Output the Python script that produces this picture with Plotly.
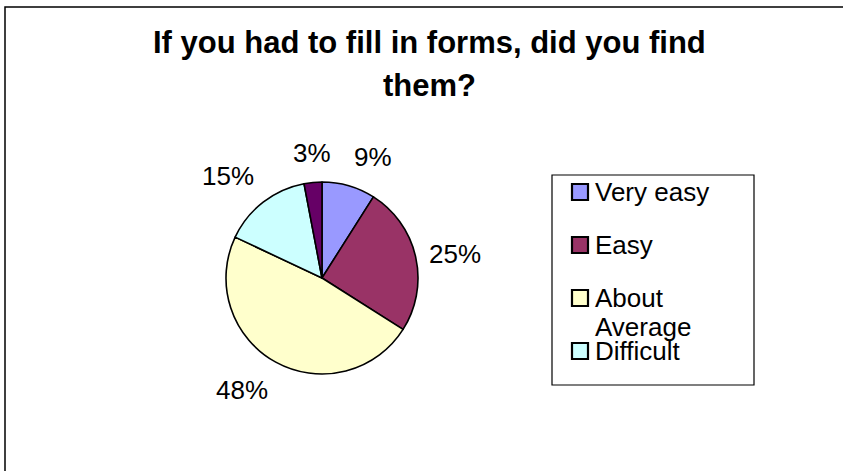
import math
import plotly.graph_objects as go

# Survey answers (percent of respondents)
categories = ["Very easy", "Easy", "About Average", "Difficult", "Very difficult"]
values = [9, 25, 48, 15, 3]
colors = ["#9999FF", "#993366", "#FFFFCC", "#CCFFFF", "#660066"]
title_lines = ["If you had to fill in forms, did you find", "them?"]

W, H = 843, 471
FONT = "Liberation Sans, Arial, Helvetica, sans-serif"


def fx(px):
    return px / W


def fy(py):
    return 1 - py / H


# pie geometry in pixels
CX, CY, R = 322, 278, 96
GAP = 12

fig = go.Figure(
    go.Pie(
        labels=categories,
        values=values,
        sort=False,
        direction="clockwise",
        rotation=0,
        marker=dict(colors=colors, line=dict(color="black", width=1.6)),
        textinfo="none",
        hoverinfo="label+percent",
        showlegend=False,
        domain=dict(x=[fx(CX - R), fx(CX + R)], y=[fy(CY + R), fy(CY - R)]),
    )
)

annotations = []
shapes = []

# two-line bold title
for k, ln in enumerate(title_lines):
    annotations.append(dict(
        x=fx(429), y=fy(43 + k * 43), xref="paper", yref="paper",
        text=f"<b>{ln}</b>", showarrow=False, xanchor="center", yanchor="middle",
        font=dict(family=FONT, size=31, color="black"),
    ))

# percentage labels just outside each slice
total = sum(values)
acc = 0
for v in values:
    mid = (acc + v / 2) / total * 2 * math.pi
    acc += v
    ux, uy = math.sin(mid), -math.cos(mid)
    px = CX + (R + GAP) * ux
    py = CY + (R + GAP) * uy
    xa = "center" if abs(ux) < 0.2 else ("left" if ux > 0 else "right")
    ya = "middle" if abs(uy) < 0.3 else ("bottom" if uy < 0 else "top")
    annotations.append(dict(
        x=fx(px), y=fy(py), xref="paper", yref="paper",
        text=f"{round(v / total * 100)}%", showarrow=False,
        xanchor=xa, yanchor=ya,
        font=dict(family=FONT, size=26, color="black"),
    ))

# legend box (only room for the first four entries)
LX0, LY0, LX1, LY1 = 552, 175, 754, 385
shapes.append(dict(type="rect", xref="paper", yref="paper",
                   x0=fx(LX0), y0=fy(LY0), x1=fx(LX1), y1=fy(LY1),
                   line=dict(color="black", width=1.2), fillcolor="white",
                   layer="below"))

first_y, step, line_gap = 192, 53, 29
for i, name in enumerate(categories[:4]):
    cy = first_y + i * step
    shapes.append(dict(type="rect", xref="paper", yref="paper",
                       x0=fx(572), x1=fx(588), y0=fy(cy - 8), y1=fy(cy + 8),
                       line=dict(color="black", width=2.2),
                       fillcolor=colors[i]))
    lines = name.split(" ", 1) if len(name) > 10 else [name]
    for k, ln in enumerate(lines):
        annotations.append(dict(
            x=fx(593), y=fy(cy + k * line_gap), xref="paper", yref="paper",
            text=ln, showarrow=False, xanchor="left", yanchor="middle",
            font=dict(family=FONT, size=26, color="black"),
        ))

# chart area frame
shapes.append(dict(type="rect", xref="paper", yref="paper",
                   x0=fx(5), y0=fy(7), x1=fx(W + 10), y1=fy(H + 10),
                   line=dict(color="black", width=1.5)))

fig.update_layout(
    width=W, height=H,
    margin=dict(l=0, r=0, t=0, b=0),
    paper_bgcolor="white",
    plot_bgcolor="white",
    annotations=annotations,
    shapes=shapes,
)

fig.write_html("out.html")
